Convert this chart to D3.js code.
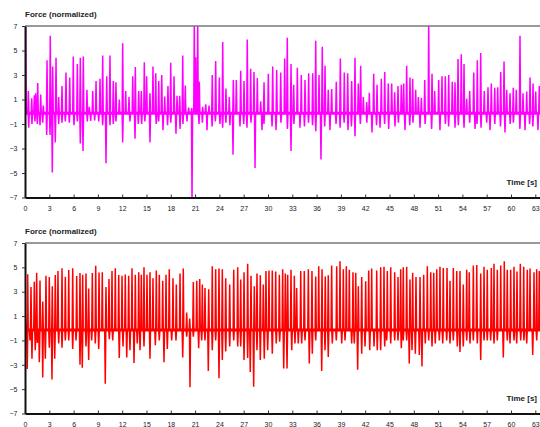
<!DOCTYPE html>
<html>
<head>
<meta charset="utf-8">
<script src="https://cdn.jsdelivr.net/npm/d3@7"></script>
<style>
  body { margin: 0; background: #fff; }
  svg { display: block; font-family: "Liberation Sans", Arial, sans-serif; }
</style>
</head>
<body>
<svg width="540" height="427"></svg>
<script>
// tick labels
var xTicks = [0, 3, 6, 9, 12, 15, 18, 21, 24, 27, 30, 33, 36, 39, 42, 45, 48, 51, 54, 57, 60, 63];
var yTicks = [7, 5, 3, 1, -1, -3, -5, -7];

// resting level of each trace
var topBase = -0.12;
var botBase = -0.15;

// top trace: [time s, force] of upward spikes
var topPeaks = [
  [0.09, 7.5], [0.41, 1.7], [0.83, 1.1], [1.15, 1.35], [1.32, 1.5], [1.57, 2.35], [1.94, 1.4], [2.26, 0.5], [2.72, 4.2], [3.12, 6.2],
  [3.42, 3.7], [3.83, 4.4], [4.16, 1.2], [4.57, 2.1], [5.06, 3.2], [5.52, 2.8], [5.96, 4.5], [6.46, 3.9], [6.83, 4.4], [7.2, 4.5],
  [7.65, 1.8], [7.94, 0.4], [8.36, 1.7], [8.77, 2.5], [9.26, 2.7], [9.59, 4.6], [10.09, 2.9], [10.49, 4.6], [10.9, 2.5], [11.23, 2.4],
  [11.64, 1.0], [12.06, 5.6], [12.43, 1.7], [12.84, 1.2], [13.3, 2.9], [13.62, 3.65], [14.04, 1.7],
  [14.36, 1.7], [14.73, 4.05], [15.02, 2.9], [15.43, 1.5], [15.8, 3.7], [16.14, 3.15], [16.51, 2.5], [16.88, 3.0], [17.25, 1.25], [17.65, 2.1],
  [17.99, 4.0], [18.4, 2.9], [18.77, 1.3], [19.1, 1.3], [19.47, 4.6], [19.79, 2.15], [20.21, 0.35], [20.58, 0.3], [20.9, 7.5], [21.07, 4.45],
  [21.32, 7.5], [21.52, 2.45], [21.94, 0.4], [22.31, 0.6], [22.72, 0.5], [23.12, 3.0], [23.54, 4.15], [23.99, 2.8], [24.41, 5.7], [24.81, 1.9],
  [25.22, 1.2], [25.72, 2.6], [26.09, 2.6], [26.63, 3.35], [27.04, 2.5], [27.44, 5.9], [27.86, 3.5], [28.27, 3.25], [28.68, 2.75], [29.1, 0.85],
  [29.51, 2.4], [30.04, 3.1], [30.58, 3.7], [31.07, 3.4], [31.57, 3.2], [32.06, 4.35], [32.38, 6.05], [32.84, 3.9], [33.17, 2.2], [33.62, 3.6],
  [34.11, 3.0], [34.57, 2.6], [35.02, 3.15], [35.52, 3.15], [35.89, 5.8], [36.3, 3.0], [36.7, 5.3], [37.04, 3.75], [37.44, 1.8], [37.86, 1.85],
  [38.43, 2.45], [38.93, 4.35], [39.42, 3.2], [39.84, 3.15], [40.33, 2.5], [40.74, 4.4], [41.15, 2.3], [41.44, 3.75], [41.77, 1.2], [42.19, 0.8],
  [42.51, 1.55], [43.05, 3.1], [43.46, 2.2], [43.99, 2.7], [44.41, 3.25], [44.85, 2.3], [45.27, 2.3], [45.64, 1.6], [46.05, 2.1],
  [46.46, 2.2], [46.75, 2.3], [47.12, 3.75], [47.53, 2.8], [47.86, 2.7], [48.23, 1.8], [48.56, 1.2], [48.93, 1.15], [49.35, 2.6], [49.84, 7.5],
  [50.25, 3.1], [50.58, 1.7], [51.07, 2.6], [51.48, 2.9], [51.89, 2.9], [52.31, 3.0], [52.75, 2.45], [53.09, 2.4], [53.46, 4.3], [53.86, 4.7],
  [54.2, 3.9], [54.53, 1.05], [54.9, 1.7], [55.4, 3.2], [55.84, 4.2], [56.26, 4.8], [56.7, 1.7], [57.16, 2.0], [57.57, 2.3], [57.99, 1.95],
  [58.36, 2.0], [58.73, 3.25], [59.14, 4.1], [59.47, 1.8], [59.88, 1.5], [60.28, 1.95], [60.65, 1.8], [61.11, 6.2], [61.48, 1.5], [61.94, 1.65],
  [62.35, 2.8], [62.72, 2.3], [63.05, 1.65], [63.49, 2.1]
];

// top trace: downward spikes
var topDips = [
  [0.46, -1.3], [0.86, -1.0], [1.23, -0.8], [1.52, -1.0], [1.85, -1.1], [2.19, -0.9], [2.68, -1.9], [3.09, -1.9], [3.37, -4.95], [3.74, -2.5],
  [4.16, -1.0], [4.57, -0.9], [4.98, -0.8], [5.47, -0.9], [6.05, -1.1], [6.46, -0.8], [6.83, -2.6], [7.16, -3.2], [7.69, -0.8], [8.11, -0.75],
  [8.6, -0.7], [9.1, -0.8], [9.59, -1.1], [10.0, -4.2], [10.49, -1.1], [10.9, -1.0], [11.23, -0.8], [12.06, -2.5], [12.96, -0.8], [13.58, -2.2],
  [13.99, -1.0], [14.4, -1.0], [14.8, -0.8], [15.43, -2.5], [16.2, -1.0], [16.5, -0.8], [17.04, -1.5], [17.6, -1.1], [18.0, -0.9], [18.64, -1.8],
  [19.14, -1.4], [19.5, -1.0], [20.0, -0.8], [20.62, -7.5], [21.48, -1.0], [21.9, -0.9], [22.47, -1.5], [23.1, -1.2], [23.5, -0.8], [24.07, -1.0],
  [24.4, -1.3], [24.8, -0.9], [25.3, -1.1], [25.68, -3.5], [26.54, -1.2], [27.0, -1.0], [27.4, -1.3], [27.9, -0.9], [28.4, -4.6], [29.26, -1.5],
  [29.5, -1.0], [30.5, -1.2], [30.99, -1.5], [31.6, -0.9], [32.4, -1.4], [32.84, -3.2], [33.2, -1.0], [33.95, -1.3], [34.5, -1.2], [35.0, -0.9],
  [35.5, -1.1], [35.9, -1.6], [36.54, -3.9], [37.0, -1.2], [37.65, -1.5], [38.4, -1.0], [38.9, -1.3], [39.4, -0.9], [39.88, -1.5], [40.3, -1.2],
  [40.74, -2.0], [41.4, -1.0], [42.2, -0.9], [42.84, -1.7], [43.4, -1.1], [43.83, -1.3], [44.4, -1.0], [44.9, -1.4], [45.68, -1.2], [46.1, -0.9],
  [46.91, -1.5], [47.5, -1.1], [47.9, -0.9], [48.77, -1.3], [49.4, -1.0], [50.2, -1.4], [51.23, -1.5], [51.9, -1.0], [52.3, -1.2], [53.09, -1.3],
  [53.5, -1.1], [54.2, -1.3], [54.9, -0.9], [55.56, -1.4], [55.8, -1.0], [56.3, -1.3], [57.0, -0.9], [57.41, -1.5], [58.0, -1.0], [58.7, -1.2],
  [59.26, -1.7], [59.9, -1.0], [60.3, -0.9], [61.1, -1.4], [61.73, -1.5], [62.3, -1.0], [62.7, -1.2], [63.33, -1.5]
];

// bottom trace: upward spikes
var botPeaks = [
  [0.02, 1.4], [0.33, 4.43], [0.74, 3.38], [1.15, 3.82], [1.44, 4.56], [1.85, 3.93], [2.19, 2.2], [2.59, 4.31], [3.0, 4.2], [3.37, 3.44], [3.74, 4.37],
  [4.07, 4.7], [4.57, 4.92], [4.98, 4.23], [5.4, 4.78], [5.89, 4.92], [6.38, 4.29], [6.79, 4.53], [7.12, 4.4], [7.53, 4.5], [7.86, 3.27],
  [8.31, 4.53], [8.73, 5.13], [9.14, 4.57], [9.54, 4.6], [10.0, 3.38], [10.37, 4.04], [10.74, 4.7], [11.15, 4.92], [11.57, 4.37], [11.98, 4.31],
  [12.38, 4.42], [12.8, 4.31], [13.21, 4.92], [13.62, 4.4], [14.04, 4.6], [14.36, 4.4], [14.69, 5.0], [15.06, 4.4], [15.43, 4.6], [15.8, 4.1],
  [16.21, 4.75], [16.58, 4.4], [17.0, 3.9], [17.41, 4.4], [17.81, 4.85], [18.27, 4.1], [18.68, 3.6], [19.14, 4.5], [19.54, 4.9], [19.96, 1.3],
  [20.33, 0.8], [20.78, 3.8], [21.2, 3.9], [21.57, 4.05], [21.89, 3.6], [22.22, 3.3], [22.68, 3.2], [23.12, 5.1], [23.54, 4.85], [23.95, 4.9],
  [24.36, 4.85], [24.78, 4.1], [25.27, 3.6], [25.77, 4.8], [26.26, 5.0], [26.63, 4.0], [27.04, 4.6], [27.49, 5.3], [27.9, 4.3], [28.31, 3.45],
  [28.64, 4.5], [29.05, 4.35], [29.42, 3.6], [29.75, 4.7], [30.12, 4.75], [30.53, 4.75], [30.95, 4.65], [31.4, 4.4], [31.81, 4.85], [32.14, 4.5],
  [32.43, 4.4], [32.84, 4.8], [33.25, 4.3], [33.54, 3.3], [34.04, 4.7], [34.48, 4.7], [34.98, 4.85], [35.43, 4.7], [35.89, 4.25], [36.26, 5.1],
  [36.67, 4.85], [37.07, 4.25], [37.44, 4.35], [37.86, 5.15], [38.48, 5.1], [38.89, 5.5], [39.3, 4.85], [39.67, 5.1], [40.04, 4.8], [40.49, 4.6],
  [40.83, 4.55], [41.15, 3.45], [41.57, 4.2], [42.06, 3.85], [42.43, 4.75], [42.8, 4.9], [43.42, 4.75], [43.91, 5.0], [44.32, 5.05], [44.73, 4.7],
  [45.15, 5.0], [45.64, 4.6], [46.05, 4.2], [46.38, 4.85], [46.7, 5.0], [47.12, 5.05], [47.53, 4.0], [47.86, 4.55], [48.27, 4.2], [48.77, 4.2],
  [49.22, 4.4], [49.67, 5.1], [50.09, 4.6], [50.46, 4.55], [50.83, 4.85], [51.23, 5.05], [51.64, 4.95], [52.1, 4.95], [52.47, 3.9], [52.88, 4.95],
  [53.3, 4.7], [53.7, 4.7], [54.11, 3.6], [54.53, 4.8], [54.85, 4.6], [55.35, 5.15], [55.77, 5.2], [56.26, 4.5], [56.67, 5.05], [57.07, 4.8],
  [57.57, 4.95], [57.9, 5.3], [58.31, 4.8], [58.73, 5.15], [59.17, 5.5], [59.54, 4.8], [59.96, 4.8], [60.37, 5.05], [60.74, 4.65], [61.15, 5.3],
  [61.57, 5.05], [62.01, 4.8], [62.35, 4.9], [62.84, 4.6], [63.17, 4.85], [63.49, 4.7]
];

// bottom trace: downward spikes
var botDips = [
  [0.28, -3.35], [0.62, -1.0], [0.86, -2.5], [1.27, -1.8], [1.52, -1.2], [1.77, -2.8], [2.19, -4.05], [2.51, -2.5], [3.0, -1.6], [3.33, -4.2],
  [3.67, -2.5], [4.16, -1.25], [4.57, -1.6], [4.98, -1.0], [5.4, -1.0], [5.89, -1.7], [6.3, -1.0], [6.79, -3.0], [7.07, -3.25], [7.53, -1.5],
  [7.86, -2.6], [8.23, -1.0], [8.68, -1.25], [9.1, -1.7], [9.91, -4.55], [10.41, -0.9], [10.83, -1.0], [11.64, -2.45], [12.1, -1.5], [12.56, -2.4],
  [12.96, -1.8], [13.46, -2.85], [13.86, -1.25], [14.2, -1.8], [14.69, -1.5], [15.43, -2.5], [16.09, -1.4], [16.58, -1.0], [17.16, -2.8], [17.57, -1.7],
  [18.11, -1.0], [18.64, -1.0], [19.47, -2.4], [19.96, -0.7], [20.37, -4.85], [20.78, -0.7], [21.44, -1.65], [21.81, -1.0], [22.22, -1.0], [22.63, -3.5],
  [23.12, -1.8], [23.54, -1.0], [23.95, -4.1], [24.36, -2.6], [24.78, -1.9], [25.27, -1.5], [25.77, -1.0], [26.26, -1.5], [26.63, -1.5], [27.04, -2.6],
  [27.49, -2.45], [27.81, -3.6], [28.23, -4.8], [28.64, -1.8], [29.05, -2.6], [29.54, -2.5], [29.96, -1.8], [30.53, -2.1], [31.02, -1.25], [31.44, -1.1],
  [31.94, -3.3], [32.35, -3.3], [32.93, -1.8], [33.33, -1.25], [33.74, -1.25], [34.16, -1.25], [34.57, -1.0], [35.1, -2.9], [35.47, -2.1], [35.89, -1.0],
  [36.63, -3.5], [37.04, -1.8], [37.44, -2.35], [37.94, -1.25], [38.43, -1.0], [39.1, -1.25], [39.51, -1.0], [40.33, -1.25], [40.65, -1.25], [41.07, -3.4],
  [41.57, -2.1], [41.98, -1.5], [42.56, -1.8], [43.09, -1.5], [43.49, -1.8], [43.91, -1.8], [44.41, -1.5], [44.65, -1.0], [45.15, -1.25], [45.64, -1.0],
  [46.05, -1.0], [46.46, -1.65], [46.7, -1.0], [47.12, -1.0], [47.44, -2.9], [47.78, -1.8], [48.19, -2.1], [48.68, -2.2], [49.01, -3.15], [49.42, -1.25],
  [49.84, -1.0], [50.25, -1.5], [50.65, -1.25], [51.15, -1.0], [51.57, -1.25], [52.06, -1.0], [52.47, -1.25], [52.88, -1.0], [53.37, -1.5], [53.7, -1.95],
  [54.11, -1.5], [54.53, -1.0], [54.94, -1.25], [55.35, -1.0], [55.84, -1.25], [56.26, -2.6], [56.67, -1.0], [57.07, -1.0], [57.49, -1.0], [57.9, -1.25],
  [58.31, -1.0], [59.05, -2.4], [59.54, -1.0], [59.88, -1.25], [60.37, -1.0], [60.7, -1.25], [61.2, -1.0], [61.6, -1.0], [61.94, -1.25], [62.68, -2.2],
  [63.17, -1.0]
];

var svg = d3.select("svg");
var tMax = 63.58;
var x = d3.scaleLinear([0, tMax], [25, 540]);

function drawPanel(top, bottom, peaks, dips, base, color, id) {
  var y = d3.scaleLinear([-7, 7], [bottom, top]);
  var g = svg.append("g");

  g.append("clipPath").attr("id", id)
    .append("rect")
    .attr("x", 25).attr("y", top)
    .attr("width", 520).attr("height", bottom - top);

  // each spike leaves the resting level and comes back
  var w = 0.07;
  var events = peaks.concat(dips).sort(function (a, b) { return a[0] - b[0]; });
  var pts = [[0, base]];
  events.forEach(function (e) {
    pts.push([e[0] - w, base], [e[0], e[1]], [e[0] + w, base]);
  });
  pts.push([tMax, base]);

  var line = d3.line().x(function (d) { return x(d[0]); }).y(function (d) { return y(d[1]); });

  var trace = g.append("g").attr("clip-path", "url(#" + id + ")");
  trace.append("line")
    .attr("x1", x(0)).attr("x2", x(tMax))
    .attr("y1", y(base)).attr("y2", y(base))
    .attr("stroke", color).attr("stroke-width", 3);
  trace.append("path")
    .attr("d", line(pts))
    .attr("fill", "none")
    .attr("stroke", color)
    .attr("stroke-width", 1.5)
    .attr("stroke-linejoin", "bevel");

  // top frame line
  g.append("line")
    .attr("x1", 25).attr("x2", 540)
    .attr("y1", top).attr("y2", top)
    .attr("stroke", "#777").attr("stroke-width", 1.5);

  var xAxis = g.append("g")
    .attr("transform", "translate(0," + bottom + ")")
    .call(d3.axisBottom(x).tickValues(xTicks).tickSizeInner(-3).tickSizeOuter(0).tickPadding(9));
  var yAxis = g.append("g")
    .attr("transform", "translate(25,0)")
    .call(d3.axisLeft(y).tickValues(yTicks).tickSizeInner(3).tickSizeOuter(0).tickPadding(4.5));

  [xAxis, yAxis].forEach(function (a) {
    a.select(".domain").attr("stroke", "#111").attr("stroke-width", 2);
    a.selectAll(".tick line").attr("stroke", "#333");
    a.selectAll(".tick text").attr("fill", "#222").style("font-size", "7px");
  });

  g.append("text")
    .attr("x", 25).attr("y", top - 9)
    .attr("font-size", 8).attr("font-weight", "bold").attr("fill", "#222")
    .text("Force (normalized)");
  g.append("text")
    .attr("x", 537).attr("y", bottom - 13)
    .attr("text-anchor", "end")
    .attr("font-size", 8).attr("font-weight", "bold").attr("fill", "#222")
    .text("Time [s]");
}

drawPanel(26, 197.5, topPeaks, topDips, topBase, "#ff00ff", "clipTop");
drawPanel(243, 413.5, botPeaks, botDips, botBase, "#ff0000", "clipBot");
</script>
</body>
</html>
